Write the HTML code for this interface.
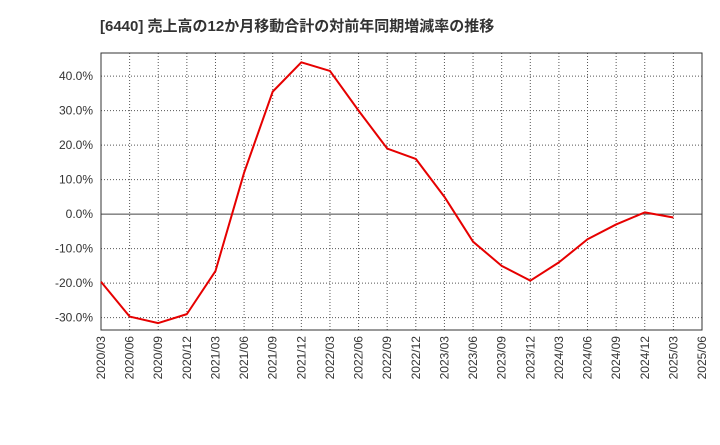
<!DOCTYPE html>
<html><head><meta charset="utf-8"><style>
body{margin:0;background:#fff;}
svg text{font-family:"Liberation Sans","Noto Sans CJK JP",sans-serif;}
</style></head><body>
<svg id="chart" width="720" height="440">
<text x="100" y="31" font-size="15" font-weight="bold" fill="#333">[6440]  売上高の12か月移動合計の対前年同期増減率の推移</text>
<g id="grid"></g><g id="axes"></g><g id="series"></g>
</svg>
<script>
const categories=["2020/03","2020/06","2020/09","2020/12","2021/03","2021/06","2021/09","2021/12","2022/03","2022/06","2022/09","2022/12","2023/03","2023/06","2023/09","2023/12","2024/03","2024/06","2024/09","2024/12","2025/03","2025/06"];
const values=[-19.6,-29.7,-31.6,-29.0,-16.5,12.0,35.5,44.0,41.5,30.0,19.0,16.0,5.0,-8.0,-15.0,-19.3,-14.0,-7.3,-3.0,0.5,-1.0];
const yTicks=[-30,-20,-10,0,10,20,30,40];
const yTickLabels=["-30.0%","-20.0%","-10.0%","0.0%","10.0%","20.0%","30.0%","40.0%"];
const L=101,R=702,T=53,B=330,yMin=-33.6,yMax=46.7;
const ns="http://www.w3.org/2000/svg";
const xs=i=>L+(R-L)*i/(categories.length-1);
const ys=v=>B-(v-yMin)/(yMax-yMin)*(B-T);
function mk(tag,attrs,parent,txt){const e=document.createElementNS(ns,tag);for(const k in attrs)e.setAttribute(k,attrs[k]);if(txt!==undefined)e.textContent=txt;document.getElementById(parent).appendChild(e);return e;}
let bg=mk('rect',{x:L,y:T,width:R-L,height:B-T,fill:'#fff',stroke:'none'},'grid');


categories.forEach((c,i)=>{
 const x=xs(i);
 const g=mk('line',{x1:x,x2:x,y1:T,y2:B,stroke:'#555','stroke-dasharray':'1,2','stroke-width':1},'grid');
 
 
 const t=mk('text',{x:0,y:0,'font-size':12,fill:'#333','text-anchor':'end',transform:`translate(${x+4},${B+6}) rotate(-90)`},'axes',c);
 
 
});
yTicks.forEach((v,i)=>{
 const y=ys(v);
 const g=mk('line',{x1:L,x2:R,y1:y,y2:y,stroke:v===0?'#444':'#555','stroke-dasharray':v===0?'none':'1,2','stroke-width':1},'grid');
 
 
 const t=mk('text',{x:L-8,y:y+4,'font-size':12,fill:'#333','text-anchor':'end'},'axes',yTickLabels[i]);
 
 
});
const fr=mk('rect',{x:L,y:T,width:R-L,height:B-T,fill:'none',stroke:'#333','stroke-width':1},'axes');


const pl=mk('polyline',{points:values.map((v,i)=>xs(i)+','+ys(v)).join(' '),fill:'none',stroke:'#e60000','stroke-width':2,'stroke-linejoin':'round'},'series');


</script>
</body></html>
